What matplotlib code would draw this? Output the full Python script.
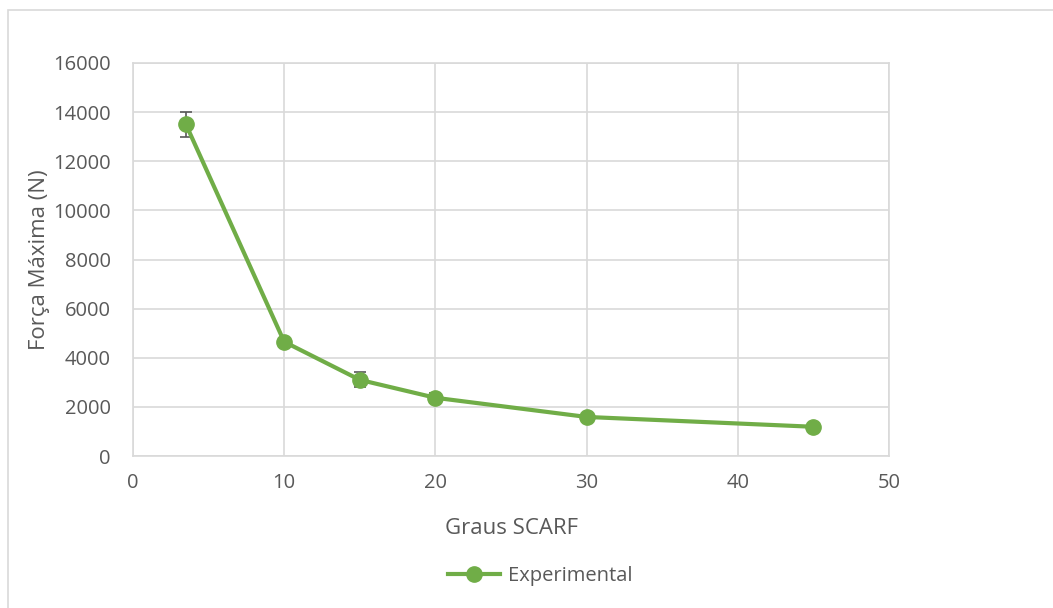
import matplotlib.pyplot as plt
from matplotlib.patches import Rectangle
from matplotlib.lines import Line2D

# Data
graus = [3.5, 10, 15, 20, 30, 45]
forca = [13500, 4650, 3100, 2370, 1590, 1190]
erro = [500, 100, 300, 200, 100, 50]

x_ticks = [0, 10, 20, 30, 40, 50]
y_ticks = [0, 2000, 4000, 6000, 8000, 10000, 12000, 14000, 16000]

plt.rcParams['font.family'] = ['Open Sans', 'DejaVu Sans']
TXT = '#595959'
GREEN = '#70AD47'

fig = plt.figure(figsize=(10.53, 6.08), dpi=100)
ax = fig.add_axes([133 / 1053, 1 - 456 / 608, (889 - 133) / 1053, (456 - 63) / 608])

# Outer chart border (only top/left visible in the crop)
fig.patches.append(Rectangle((8 / 1053, -0.05), 1.2, 1 - 10 / 608 + 0.05,
                             transform=fig.transFigure, fill=False,
                             edgecolor='#D9D9D9', linewidth=1.2))

# error bars sit behind the markers
ax.errorbar(graus, forca, yerr=erro, fmt='none', ecolor='#595959',
            elinewidth=1.2, capsize=4.5, capthick=1.2, zorder=2)
ax.plot(graus, forca, color=GREEN, linewidth=3, marker='o',
        markersize=11, zorder=3)

ax.set_xlim(0, 50)
ax.set_ylim(0, 16000)
ax.set_xticks(x_ticks)
ax.set_yticks(y_ticks)
ax.grid(True, color='#D9D9D9', linewidth=1.2)
ax.set_axisbelow(True)
for s in ax.spines.values():
    s.set_color('#D9D9D9')
    s.set_linewidth(1.2)
ax.tick_params(length=0, labelsize=14.5, labelcolor=TXT)
ax.tick_params(axis='y', pad=16)
ax.tick_params(axis='x', pad=12)

ax.set_xlabel('Graus SCARF', fontsize=16, color=TXT, va='center')
ax.set_ylabel('Força Máxima (N)', fontsize=16, color=TXT, va='center')
ax.xaxis.set_label_coords(0.5, (456 - 528) / 393)
ax.yaxis.set_label_coords((40 - 133) / 756, 0.5)

handle = Line2D([], [], color=GREEN, linewidth=3, marker='o', markersize=11)
leg = fig.legend([handle], ['Experimental'], loc='center',
                 bbox_to_anchor=(540 / 1053, 1 - 576 / 608),
                 frameon=False, fontsize=14.5, handlelength=2.6,
                 handletextpad=0.4)
for t in leg.get_texts():
    t.set_color(TXT)

fig.savefig('out.png', dpi=100)
